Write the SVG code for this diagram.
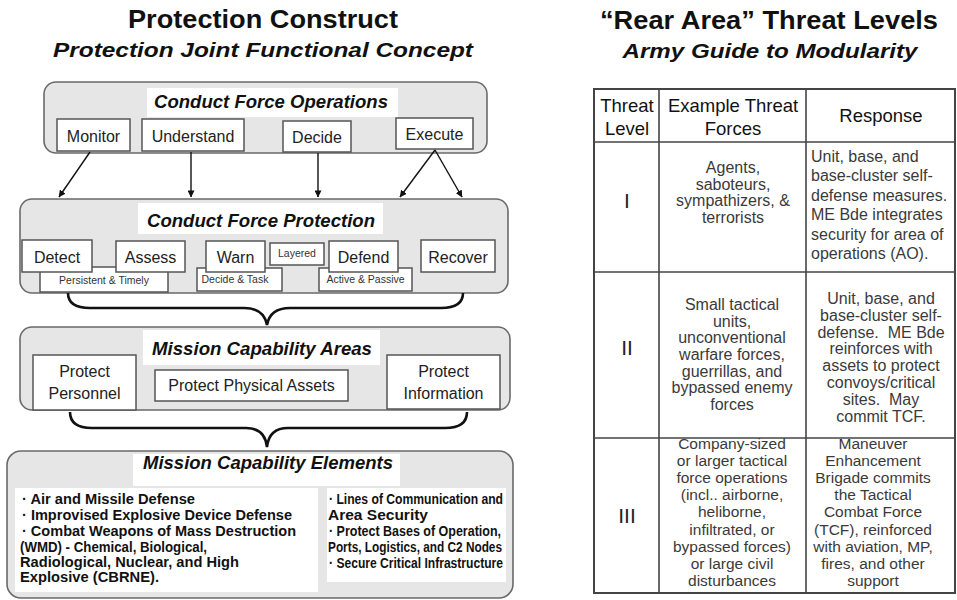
<svg xmlns="http://www.w3.org/2000/svg" width="957" height="600" viewBox="0 0 957 600">
<defs>
<marker id="ah" viewBox="0 0 8 8" refX="7.5" refY="4" markerWidth="7" markerHeight="7" markerUnits="userSpaceOnUse" orient="auto">
<path d="M0,0 L8,4 L0,8 z" fill="#111"/>
</marker>
<style>
.panel{fill:#e6e6e6;stroke:#6a6a6a;stroke-width:1.6}
.tbg{fill:#ffffff;stroke:none}
.btn{fill:#ffffff;stroke:#555;stroke-width:1.5}
.ttl{font-family:"Liberation Sans",Arial,sans-serif;font-weight:bold;fill:#111;text-anchor:middle}
.bt{font-family:"Liberation Sans",Arial,sans-serif;font-weight:bold;font-style:italic;fill:#111;text-anchor:middle;font-size:18px}
.lb{font-family:"Liberation Sans",Arial,sans-serif;fill:#222;text-anchor:middle;font-size:16px}
.sm{font-family:"Liberation Sans",Arial,sans-serif;fill:#333;text-anchor:middle;font-size:10.5px}
.bul{font-family:"Liberation Sans",Arial,sans-serif;font-weight:bold;fill:#111;font-size:14px}
.conn{stroke:#111;stroke-width:1.4;fill:none}
.brace{stroke:#111;stroke-width:2.6;fill:none}
.tline{stroke:#444;stroke-width:1.6;fill:none}
.th{font-family:"Liberation Sans",Arial,sans-serif;fill:#111;text-anchor:middle;font-size:18.5px}
.td{font-family:"Liberation Sans",Arial,sans-serif;fill:#3a3a3a;text-anchor:middle;font-size:16px}
.td3{font-family:"Liberation Sans",Arial,sans-serif;fill:#3a3a3a;text-anchor:middle;font-size:15.5px}
.tl{font-family:"Liberation Sans",Arial,sans-serif;fill:#3a3a3a;font-size:16px}
.rn{font-family:"Liberation Sans",Arial,sans-serif;fill:#222;text-anchor:middle;font-size:21px}
</style>
</defs>
<rect width="957" height="600" fill="#ffffff"/>

<!-- Left titles -->
<g id="left-title">
<text class="ttl" x="263" y="28" font-size="25" textLength="270" lengthAdjust="spacingAndGlyphs">Protection Construct</text>
<text class="ttl" x="263" y="57" font-size="21" font-style="italic" textLength="420" lengthAdjust="spacingAndGlyphs">Protection Joint Functional Concept</text>
</g>

<!-- Conduct Force Operations -->
<g id="cfo">
<rect class="panel" x="44" y="82" width="443" height="71" rx="12"/>
<rect class="tbg" x="147" y="88" width="251" height="29"/>
<text class="bt" x="271" y="108" textLength="234" lengthAdjust="spacingAndGlyphs">Conduct Force Operations</text>
</g>
<g id="monitor"><rect class="btn" x="57" y="119" width="73" height="32"/><text class="lb" x="93.5" y="142" font-size="15">Monitor</text></g>
<g id="understand"><rect class="btn" x="142" y="119" width="102" height="32"/><text class="lb" x="193" y="142" font-size="15">Understand</text></g>
<g id="decide"><rect class="btn" x="283" y="121" width="68" height="31"/><text class="lb" x="317" y="143" font-size="15">Decide</text></g>
<g id="execute"><rect class="btn" x="396" y="118" width="77" height="31"/><text class="lb" x="434.5" y="140" font-size="15">Execute</text></g>

<!-- Conduct Force Protection -->
<g id="cfp">
<rect class="panel" x="20" y="199" width="488" height="94" rx="12"/>
<rect class="tbg" x="138" y="203" width="245" height="31"/>
<text class="bt" x="261" y="227" textLength="228" lengthAdjust="spacingAndGlyphs">Conduct Force Protection</text>
</g>
<g id="persistent"><rect class="btn" x="40" y="267" width="128" height="25"/><text class="sm" x="104" y="284">Persistent &amp; Timely</text></g>
<g id="decidetask"><rect class="btn" x="197" y="268" width="85" height="23"/><text class="sm" x="235" y="283">Decide &amp; Task</text></g>
<g id="activepassive"><rect class="btn" x="319" y="268" width="93" height="23"/><text class="sm" x="365.5" y="283">Active &amp; Passive</text></g>
<g id="detect"><rect class="btn" x="22" y="240" width="70" height="32"/><text class="lb" x="57" y="263">Detect</text></g>
<g id="assess"><rect class="btn" x="116" y="241" width="69" height="31"/><text class="lb" x="150.5" y="263">Assess</text></g>
<g id="warn"><rect class="btn" x="206" y="241" width="59" height="31"/><text class="lb" x="235.5" y="263">Warn</text></g>
<g id="layered"><rect class="btn" x="270" y="243" width="54" height="22"/><text class="sm" x="297" y="257" font-size="9.5">Layered</text></g>
<g id="defend"><rect class="btn" x="329" y="241" width="69" height="31"/><text class="lb" x="363.5" y="263">Defend</text></g>
<g id="recover"><rect class="btn" x="421" y="240" width="74" height="32"/><text class="lb" x="458" y="263">Recover</text></g>

<!-- Mission Capability Areas -->
<g id="mca">
<rect class="panel" x="20" y="327" width="490" height="83" rx="12"/>
<rect class="tbg" x="143" y="330" width="237" height="35"/>
<text class="bt" x="262" y="355" textLength="220" lengthAdjust="spacingAndGlyphs">Mission Capability Areas</text>
</g>
<g id="personnel"><rect class="btn" x="33" y="355" width="103" height="55"/><text class="lb" x="84.5" y="377" font-size="15.5">Protect</text><text class="lb" x="84.5" y="399" font-size="15.5">Personnel</text></g>
<g id="physical"><rect class="btn" x="155" y="370" width="193" height="31"/><text class="lb" x="251.5" y="391" font-size="15.5">Protect Physical Assets</text></g>
<g id="information"><rect class="btn" x="387" y="355" width="113" height="54"/><text class="lb" x="443.5" y="377" font-size="15.5">Protect</text><text class="lb" x="443.5" y="399" font-size="15.5">Information</text></g>

<!-- Mission Capability Elements -->
<g id="mce">
<rect class="panel" x="7" y="451" width="506" height="147" rx="14"/>
<rect class="tbg" x="133" y="454" width="267" height="32"/>
<text class="bt" x="268" y="469" textLength="250" lengthAdjust="spacingAndGlyphs">Mission Capability Elements</text>
</g>
<g id="mce-left">
<rect class="tbg" x="15" y="488" width="303" height="104"/>
<text class="bul" x="22" y="504" textLength="173" lengthAdjust="spacingAndGlyphs">· Air and Missile Defense</text>
<text class="bul" x="22" y="520" textLength="270" lengthAdjust="spacingAndGlyphs">· Improvised Explosive Device Defense</text>
<text class="bul" x="22" y="536" textLength="274" lengthAdjust="spacingAndGlyphs">· Combat Weapons of Mass Destruction</text>
<text class="bul" x="20" y="552" textLength="187" lengthAdjust="spacingAndGlyphs">(WMD) - Chemical, Biological,</text>
<text class="bul" x="20" y="567" textLength="219" lengthAdjust="spacingAndGlyphs">Radiological, Nuclear, and High</text>
<text class="bul" x="20" y="582" textLength="139" lengthAdjust="spacingAndGlyphs">Explosive (CBRNE).</text>
</g>
<g id="mce-right">
<rect class="tbg" x="327" y="488" width="179" height="94"/>
<text class="bul" x="329" y="504" textLength="174" lengthAdjust="spacingAndGlyphs">· Lines of Communication and</text>
<text class="bul" x="328" y="520" textLength="100" lengthAdjust="spacingAndGlyphs">Area Security</text>
<text class="bul" x="329" y="536" textLength="172" lengthAdjust="spacingAndGlyphs">· Protect Bases of Operation,</text>
<text class="bul" x="328" y="552" textLength="174" lengthAdjust="spacingAndGlyphs">Ports, Logistics, and C2 Nodes</text>
<text class="bul" x="329" y="568" textLength="174" lengthAdjust="spacingAndGlyphs">· Secure Critical Infrastructure</text>
</g>

<!-- Connectors -->
<g id="connectors">
<line class="conn" x1="90" y1="152" x2="59" y2="197" marker-end="url(#ah)"/>
<line class="conn" x1="191" y1="152" x2="191" y2="197" marker-end="url(#ah)"/>
<line class="conn" x1="318" y1="153" x2="318" y2="197" marker-end="url(#ah)"/>
<line class="conn" x1="435" y1="150" x2="400" y2="197" marker-end="url(#ah)"/>
<line class="conn" x1="435" y1="150" x2="462" y2="197" marker-end="url(#ah)"/>
<path class="brace" d="M68,293 Q68,308 90,308 L244,308 Q264,308 267,325 Q270,308 290,308 L441,308 Q463,308 463,293"/>
<path class="brace" d="M70,412 Q70,428 92,428 L246,428 Q265,428 267,447 Q269,428 288,428 L445,428 Q467,428 467,412"/>
</g>

<!-- Right titles -->
<g id="right-title">
<text class="ttl" x="769" y="29" font-size="25" textLength="338" lengthAdjust="spacingAndGlyphs">“Rear Area” Threat Levels</text>
<text class="ttl" x="770" y="58" font-size="20" font-style="italic" textLength="295" lengthAdjust="spacingAndGlyphs">Army Guide to Modularity</text>
</g>

<!-- Table -->
<g id="table">
<rect x="594" y="89" width="361" height="504" fill="#ffffff" stroke="#444" stroke-width="2"/>
<line class="tline" x1="659" y1="89" x2="659" y2="593"/>
<line class="tline" x1="806" y1="89" x2="806" y2="593"/>
<line class="tline" x1="594" y1="142" x2="955" y2="142"/>
<line class="tline" x1="594" y1="272" x2="955" y2="272"/>
<line class="tline" x1="594" y1="438" x2="955" y2="438"/>
</g>
<g id="table-header">
<text class="th" x="627" y="112">Threat</text>
<text class="th" x="627" y="135">Level</text>
<text class="th" x="733" y="112">Example Threat</text>
<text class="th" x="733" y="135">Forces</text>
<text class="th" x="881" y="122">Response</text>
</g>
<g id="row1">
<text class="rn" x="627" y="208">I</text>
<text class="td" x="733" y="173">Agents,</text>
<text class="td" x="733" y="190">saboteurs,</text>
<text class="td" x="733" y="206">sympathizers, &amp;</text>
<text class="td" x="733" y="223">terrorists</text>
<text class="tl" x="811" y="162">Unit, base, and</text>
<text class="tl" x="811" y="181">base-cluster self-</text>
<text class="tl" x="811" y="201">defense measures.</text>
<text class="tl" x="811" y="220">ME Bde integrates</text>
<text class="tl" x="811" y="240">security for area of</text>
<text class="tl" x="811" y="259">operations (AO).</text>
</g>
<g id="row2">
<text class="rn" x="627" y="355">II</text>
<text class="td" x="732" y="310">Small tactical</text>
<text class="td" x="732" y="327">units,</text>
<text class="td" x="732" y="343">unconventional</text>
<text class="td" x="732" y="360">warfare forces,</text>
<text class="td" x="732" y="377">guerrillas, and</text>
<text class="td" x="732" y="393">bypassed enemy</text>
<text class="td" x="732" y="410">forces</text>
<text class="td" x="881" y="304">Unit, base, and</text>
<text class="td" x="881" y="321">base-cluster self-</text>
<text class="td" x="881" y="338">defense.&#160; ME Bde</text>
<text class="td" x="881" y="354">reinforces with</text>
<text class="td" x="881" y="371">assets to protect</text>
<text class="td" x="881" y="388">convoys/critical</text>
<text class="td" x="881" y="405">sites.&#160; May</text>
<text class="td" x="881" y="422">commit TCF.</text>
</g>
<g id="row3">
<text class="rn" x="627" y="523">III</text>
<text class="td3" x="732" y="449">Company-sized</text>
<text class="td3" x="732" y="466.1">or larger tactical</text>
<text class="td3" x="732" y="483.2">force operations</text>
<text class="td3" x="732" y="500.3">(incl.. airborne,</text>
<text class="td3" x="732" y="517.4">heliborne,</text>
<text class="td3" x="732" y="534.5">infiltrated, or</text>
<text class="td3" x="732" y="551.6">bypassed forces)</text>
<text class="td3" x="732" y="568.7">or large civil</text>
<text class="td3" x="732" y="586">disturbances</text>
<text class="td3" x="873" y="449">Maneuver</text>
<text class="td3" x="873" y="466.1">Enhancement</text>
<text class="td3" x="873" y="483.2">Brigade commits</text>
<text class="td3" x="873" y="500.3">the Tactical</text>
<text class="td3" x="873" y="517.4">Combat Force</text>
<text class="td3" x="873" y="534.5">(TCF), reinforced</text>
<text class="td3" x="873" y="551.6">with aviation, MP,</text>
<text class="td3" x="873" y="568.7">fires, and other</text>
<text class="td3" x="873" y="586">support</text>
</g>
</svg>
